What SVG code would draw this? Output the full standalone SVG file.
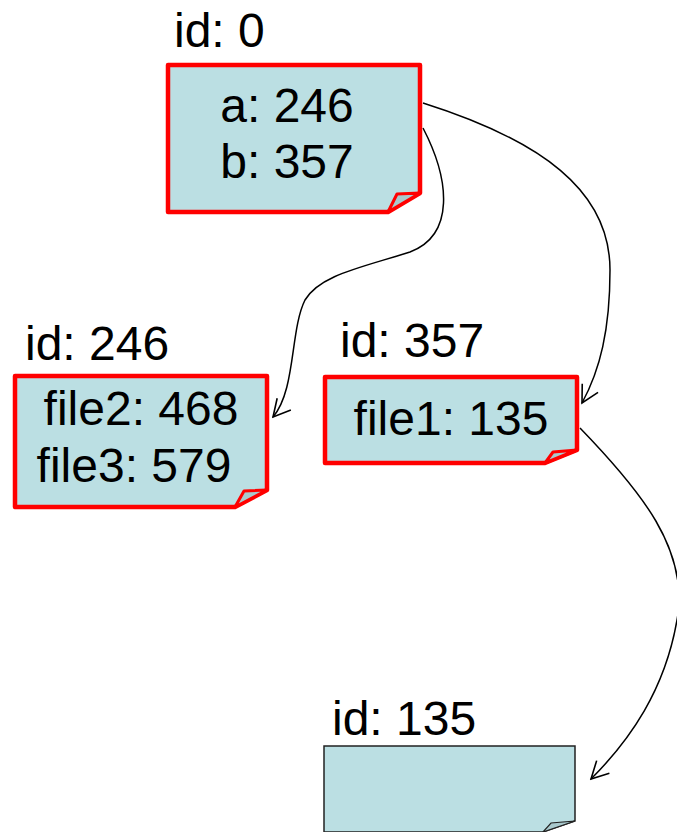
<svg xmlns="http://www.w3.org/2000/svg" width="677" height="832" viewBox="0 0 677 832">
  <style>
    .box { fill: #bbdfe3; stroke: #ff0000; stroke-width: 4.5; stroke-linejoin: round; }
    .flap { fill: #a9c9cd; stroke: #ff0000; stroke-width: 3; stroke-linejoin: round; }
    .plain { fill: #bbdfe3; stroke: #222; stroke-width: 1.5; }
    .plainflap { fill: #a9c9cd; stroke: #222; stroke-width: 1.2; }
    .lbl { font-family: "Liberation Sans", Arial, sans-serif; font-size: 48px; fill: #000; }
    .body { font-family: "Liberation Sans", Arial, sans-serif; font-size: 48px; fill: #000; text-anchor: middle; }
    .edge { fill: none; stroke: #000; stroke-width: 1.5; }
  </style>
  <defs>
    <marker id="open" viewBox="-18 -10 20 20" markerWidth="20" markerHeight="20" refX="0" refY="0" orient="auto" markerUnits="userSpaceOnUse">
      <path d="M-17,-9 L0,0 L-17,9" fill="none" stroke="#000" stroke-width="1.6"/>
    </marker>
  </defs>
  <rect width="677" height="832" fill="#fff"/>

  <g id="connectors">
    <path class="edge" d="M423,103 C540,140 610,190 610,270 C610,330 600,370 582,403" marker-end="url(#open)"/>
    <path class="edge" d="M423,128 C450,180 455,235 410,252 C360,268 320,275 305,300 C290,330 296,390 273,417" marker-end="url(#open)"/>
    <path class="edge" d="M580,428 C640,490 690,550 677,620 C665,690 630,740 591,779" marker-end="url(#open)"/>
  </g>

  <g id="node-0">
    <text class="lbl" x="174" y="47">id: 0</text>
    <path class="box" d="M168,65 H420 V193 L388,212 H168 Z"/>
    <path class="flap" d="M388,212 L397,194 L420,193 Z"/>
    <text class="body" x="287" y="122">a: 246</text>
    <text class="body" x="287" y="178">b: 357</text>
  </g>

  <g id="node-246">
    <text class="lbl" x="25" y="360">id: 246</text>
    <path class="box" d="M15,376 H267 V490 L235,507 H15 Z"/>
    <path class="flap" d="M235,507 L244,491 L267,490 Z"/>
    <text class="body" x="141" y="425">file2: 468</text>
    <text class="body" x="134" y="482">file3: 579</text>
  </g>

  <g id="node-357">
    <text class="lbl" x="340" y="357">id: 357</text>
    <path class="box" d="M325,377 H577 V450 L545,463 H325 Z"/>
    <path class="flap" d="M545,463 L553,452 L577,450 Z"/>
    <text class="body" x="451" y="435">file1: 135</text>
  </g>

  <g id="node-135">
    <text class="lbl" x="332" y="735">id: 135</text>
    <path class="plain" d="M324,746 H575 V821 L543,832 H324 Z"/>
    <path class="plainflap" d="M543,832 L551,823 L575,821 Z"/>
  </g>
</svg>
